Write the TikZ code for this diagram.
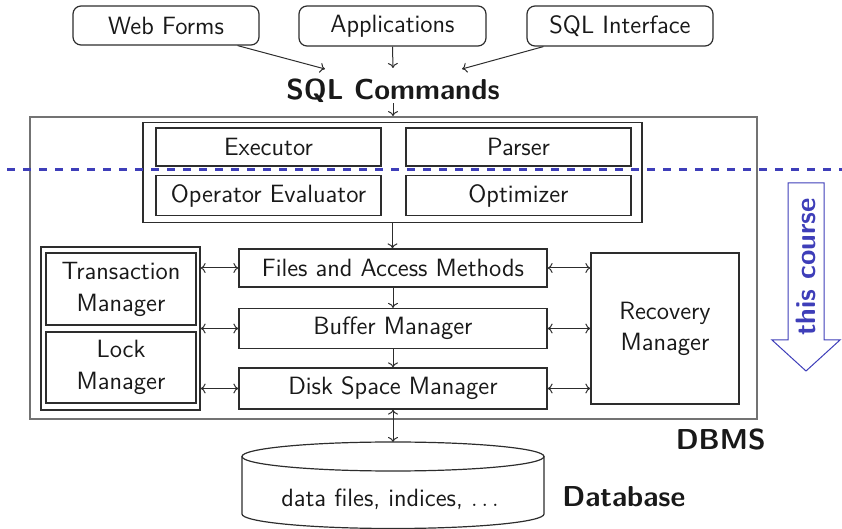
\documentclass[tikz,border=0pt]{standalone}
\usetikzlibrary{arrows.meta,calc}
\definecolor{cblue}{RGB}{62,62,185}
\definecolor{ln}{RGB}{45,45,45}
\begin{document}
\begin{tikzpicture}[x=0.5pt,y=-0.5pt,
  every node/.style={font=\sffamily\fontsize{12.5}{15.5}\selectfont, text=black!90},
  box/.style={draw=ln, line width=0.6pt, inner sep=0pt, align=center},
  rbox/.style={box, rounded corners=4pt},
  boldlbl/.style={font=\sffamily\bfseries\fontsize{14.4}{17}\selectfont, inner sep=0pt},
  conn/.style={draw=ln, line width=0.5pt, -{To[length=2.5pt,width=5pt]}},
  dconn/.style={draw=ln, line width=0.5pt, {To[length=2.5pt,width=5pt]}-{To[length=2.5pt,width=5pt]}},
]
\useasboundingbox (0,0) rectangle (842,529);

% top sources
\node[rbox, minimum width=93pt, minimum height=19.5pt] (web) at (166,25.5) {Web Forms};
\node[rbox, minimum width=93.5pt, minimum height=20pt] (app) at (392.5,26) {Applications};
\node[rbox, minimum width=93pt, minimum height=20pt] (sqli) at (620,26) {SQL Interface};
\node[boldlbl, anchor=base] (sqlc) at (393,100) {SQL Commands};
\coordinate (t1) at (325,69);
\coordinate (t2) at (393,68);
\coordinate (t3) at (462,69);
\draw[conn] ([xshift=-11pt]web.south east) -- (t1);
\draw[conn] (app.south) -- (t2);
\draw[conn] ([xshift=8.5pt]sqli.south west) -- (t3);

% DBMS
\node[draw=black!55, line width=0.9pt, minimum width=363.5pt, minimum height=151pt, inner sep=0pt] (dbms) at (393.5,268) {};
\draw[conn] (sqlc.south) -- (sqlc.south |- dbms.north);

\node[box, minimum width=249.5pt, minimum height=50pt] (qbox) at (392.5,172.5) {};
\node[box, minimum width=112.5pt, minimum height=19pt] (exec) at (268.5,147) {Executor};
\node[box, minimum width=112.5pt, minimum height=19pt] (parser) at (518.5,147) {Parser};
\node[box, minimum width=112.5pt, minimum height=20pt] (opeval) at (268.5,195.5) {Operator Evaluator};
\node[box, minimum width=112.5pt, minimum height=20pt] (optim) at (518.5,195.5) {Optimizer};

\node[box, minimum width=154pt, minimum height=19pt] (files) at (393,268) {Files and Access Methods};
\node[box, minimum width=154pt, minimum height=20pt] (buf) at (393,328.5) {Buffer Manager};
\node[box, minimum width=154pt, minimum height=20.5pt] (disk) at (393,388.5) {Disk Space Manager};

\node[box, minimum width=79.5pt, minimum height=81.5pt] (left) at (120.5,328.5) {};
\node[box, minimum width=75pt, minimum height=36pt, font=\sffamily\fontsize{12.5}{16}\selectfont] (trans) at (121,289) {Transaction\\Manager};
\node[box, minimum width=75pt, minimum height=35.5pt, font=\sffamily\fontsize{12.5}{16}\selectfont] (lock) at (121,367.5) {Lock\\Manager};
\node[box, minimum width=74pt, minimum height=75.5pt] (rec) at (665,328.5) {Recovery\\Manager};

\draw[conn] (qbox.south) -- (qbox.south |- files.north);
\draw[conn] (files.south) -- (buf.north);
\draw[conn] (buf.south) -- (disk.north);
\foreach \n in {files,buf,disk}{
  \draw[dconn] (left.east |- \n.west) -- (\n.west);
  \draw[dconn] (\n.east) -- (rec.west |- \n.east);
}

% database cylinder
\coordinate (dbtop) at (393,442);
\draw[dconn] (disk.south) -- (dbtop);
\draw[ln, line width=0.6pt] (393,456.5) ellipse [x radius=75.5pt, y radius=7.25pt];
\draw[ln, line width=0.6pt] (242,456.5) -- (242,514)
  arc[start angle=180, end angle=360, x radius=75.5pt, y radius=7.25pt] -- (544,456.5);
\node[anchor=base] (db) at (390,507) {data files, indices, \(\ldots\)};
\node[boldlbl, anchor=base west] (dbl) at (562,507) {Database};
\node[boldlbl, anchor=base east] (dbmsl) at (766,450) {DBMS};

% course marker
\coordinate (dl) at (0,170);
\coordinate (dr) at (842,170);
\draw[cblue, line width=1.5pt, dash pattern=on 4pt off 4pt, dash phase=4.5pt] (dl) -- (dr);
\draw[cblue, line width=0.5pt, line join=miter] (788,183) -- (824,183) -- (824,340) -- (840,340)
  -- (806,371) -- (772,340) -- (788,340) -- cycle;
\node[boldlbl, text=cblue, rotate=90, font=\sffamily\bfseries\fontsize{14}{17}\selectfont] (course) at (806,267) {this course};
\end{tikzpicture}
\end{document}
